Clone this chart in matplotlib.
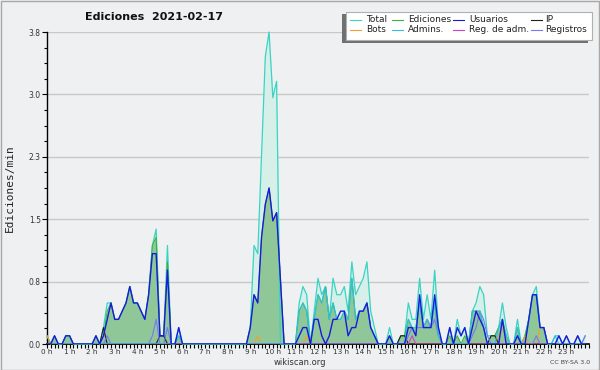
import matplotlib
matplotlib.use("Agg")
import matplotlib.pyplot as plt
from matplotlib.patches import Rectangle
from matplotlib.lines import Line2D
import numpy as np

title = "Ediciones  2021-02-17"
ylabel = "Ediciones/min"
hour_labels = ["0 h", "1 h", "2 h", "3 h", "4 h", "5 h", "6 h", "7 h", "8 h", "9 h",
               "10 h", "11 h", "12 h", "13 h", "14 h", "15 h", "16 h", "17 h", "18 h",
               "19 h", "20 h", "21 h", "22 h", "23 h"]
ytick_vals = [0.0, 0.76, 1.52, 2.28, 3.04, 3.8]
ytick_labels = ["0.0", "0.8", "1.5", "2.3", "3.0", "3.8"]

# values per 10-minute bin, one row per hour
total = [
    0.1, 0, 0.1, 0, 0, 0.1,
    0.1, 0, 0, 0, 0, 0,
    0, 0.1, 0, 0.2, 0.5, 0.5,
    0.3, 0.3, 0.4, 0.5, 0.7, 0.5,
    0.5, 0.4, 0.3, 0.6, 1.2, 1.4,
    0.1, 0.1, 1.2, 0, 0, 0.2,
    0, 0, 0, 0, 0, 0,
    0, 0, 0, 0, 0, 0,
    0, 0, 0, 0, 0, 0,
    0.2, 1.2, 1.1, 2.3, 3.5, 3.8,
    3.0, 3.2, 0, 0, 0, 0,
    0, 0.5, 0.7, 0.6, 0, 0.4,
    0.8, 0.6, 0.7, 0.3, 0.8, 0.6,
    0.6, 0.7, 0.4, 1.0, 0.6, 0.7,
    0.8, 1.0, 0.4, 0.2, 0, 0,
    0, 0.2, 0, 0, 0.1, 0.1,
    0.5, 0.3, 0.3, 0.8, 0.3, 0.6,
    0.3, 0.9, 0.2, 0, 0, 0.2,
    0, 0.3, 0.1, 0.2, 0, 0.4,
    0.5, 0.7, 0.6, 0.1, 0.1, 0.1,
    0.2, 0.5, 0.2, 0, 0, 0.3,
    0, 0.1, 0.3, 0.6, 0.7, 0.2,
    0.2, 0, 0, 0.1, 0.1, 0,
    0.1, 0, 0, 0.1, 0, 0.1,
]
ediciones = [
    0.1, 0, 0.1, 0, 0, 0.1,
    0.1, 0, 0, 0, 0, 0,
    0, 0.1, 0, 0.1, 0.4, 0.5,
    0.3, 0.3, 0.4, 0.5, 0.7, 0.5,
    0.5, 0.4, 0.3, 0.6, 1.2, 1.3,
    0.1, 0.1, 1.0, 0, 0, 0.1,
    0, 0, 0, 0, 0, 0,
    0, 0, 0, 0, 0, 0,
    0, 0, 0, 0, 0, 0,
    0.2, 0.6, 0.5, 1.3, 1.7, 1.9,
    1.5, 1.6, 0.8, 0, 0, 0,
    0, 0.4, 0.5, 0.4, 0, 0.3,
    0.6, 0.5, 0.7, 0.3, 0.5, 0.3,
    0.3, 0.4, 0.3, 0.8, 0.3, 0.4,
    0.4, 0.5, 0.2, 0.1, 0, 0,
    0, 0.1, 0, 0, 0.1, 0.1,
    0.3, 0.2, 0.2, 0.5, 0.2, 0.3,
    0.2, 0.5, 0.1, 0, 0, 0.1,
    0, 0.1, 0, 0.1, 0, 0.4,
    0.4, 0.4, 0.2, 0, 0.1, 0.1,
    0.2, 0.3, 0.1, 0, 0, 0.2,
    0, 0.1, 0.3, 0.6, 0.6, 0.2,
    0.2, 0, 0, 0, 0, 0,
    0, 0, 0, 0, 0, 0,
]
usuarios = [
    0, 0, 0.1, 0, 0, 0.1,
    0.1, 0, 0, 0, 0, 0,
    0, 0.1, 0, 0.1, 0.3, 0.5,
    0.3, 0.3, 0.4, 0.5, 0.7, 0.5,
    0.5, 0.4, 0.3, 0.6, 1.1, 1.1,
    0.1, 0.1, 0.9, 0, 0, 0.2,
    0, 0, 0, 0, 0, 0,
    0, 0, 0, 0, 0, 0,
    0, 0, 0, 0, 0, 0,
    0.2, 0.6, 0.5, 1.3, 1.7, 1.9,
    1.5, 1.6, 0.8, 0, 0, 0,
    0, 0.1, 0.2, 0.2, 0, 0.3,
    0.3, 0.1, 0, 0.1, 0.3, 0.3,
    0.4, 0.4, 0.1, 0.2, 0.2, 0.4,
    0.4, 0.5, 0.2, 0.1, 0, 0,
    0, 0.1, 0, 0, 0, 0,
    0.2, 0.2, 0.1, 0.6, 0.2, 0.2,
    0.2, 0.6, 0.2, 0, 0, 0.2,
    0, 0.2, 0.1, 0.2, 0, 0.2,
    0.4, 0.3, 0.2, 0, 0, 0,
    0, 0.3, 0, 0, 0, 0.1,
    0, 0, 0.3, 0.6, 0.6, 0.2,
    0.2, 0, 0, 0, 0.1, 0,
    0.1, 0, 0, 0.1, 0, 0,
]
ip = [
    0, 0, 0, 0, 0, 0,
    0, 0, 0, 0, 0, 0,
    0, 0, 0, 0.2, 0, 0,
    0, 0, 0, 0, 0, 0,
    0, 0, 0, 0, 0, 0,
    0.1, 0.1, 0, 0, 0, 0,
    0, 0, 0, 0, 0, 0,
    0, 0, 0, 0, 0, 0,
    0, 0, 0, 0, 0, 0,
    0, 0, 0, 0, 0, 0,
    0, 0, 0, 0, 0, 0,
    0, 0, 0, 0, 0, 0,
    0, 0, 0, 0, 0, 0,
    0, 0, 0, 0, 0, 0,
    0, 0, 0, 0, 0, 0,
    0, 0, 0, 0, 0.1, 0.1,
    0, 0, 0, 0, 0, 0,
    0, 0, 0, 0, 0, 0,
    0, 0, 0, 0, 0, 0,
    0, 0, 0, 0, 0.1, 0.1,
    0, 0, 0, 0, 0, 0,
    0, 0, 0, 0, 0, 0,
    0, 0, 0, 0, 0, 0,
    0, 0, 0, 0, 0, 0,
]
bots = [
    0.1, 0, 0, 0, 0, 0,
    0, 0, 0, 0, 0, 0,
    0, 0, 0, 0, 0, 0,
    0, 0, 0, 0, 0, 0,
    0, 0, 0, 0, 0, 0,
    0, 0, 0, 0, 0, 0,
    0, 0, 0, 0, 0, 0,
    0, 0, 0, 0, 0, 0,
    0, 0, 0, 0, 0, 0,
    0, 0, 0.1, 0, 0, 0,
    0, 0, 0, 0, 0, 0,
    0, 0, 0, 0.1, 0, 0,
    0, 0, 0, 0, 0, 0,
    0, 0, 0, 0, 0, 0,
    0, 0, 0, 0, 0, 0,
    0, 0, 0, 0, 0, 0,
    0, 0, 0, 0, 0, 0,
    0, 0, 0, 0, 0, 0,
    0, 0, 0, 0, 0, 0,
    0, 0, 0, 0, 0, 0,
    0.1, 0.2, 0.1, 0, 0, 0,
    0, 0.1, 0, 0, 0, 0.2,
    0.2, 0, 0, 0, 0, 0,
    0, 0, 0, 0, 0, 0,
]
admins = [
    0, 0, 0, 0, 0, 0,
    0, 0, 0, 0, 0, 0,
    0, 0, 0, 0, 0, 0,
    0, 0, 0, 0, 0, 0,
    0, 0, 0, 0, 0, 0,
    0, 0, 0, 0, 0, 0.1,
    0, 0, 0, 0, 0, 0,
    0, 0, 0, 0, 0, 0,
    0, 0, 0, 0, 0, 0,
    0, 0, 0, 0, 0, 0,
    0, 0, 0, 0, 0, 0,
    0, 0.4, 0.5, 0.4, 0, 0.3,
    0.6, 0.5, 0.7, 0.3, 0.5, 0.3,
    0.3, 0.4, 0.3, 0.8, 0.3, 0.4,
    0.4, 0.5, 0.2, 0.1, 0, 0,
    0, 0, 0, 0, 0, 0,
    0.3, 0.2, 0.2, 0.5, 0.2, 0.3,
    0.2, 0.5, 0.1, 0, 0, 0,
    0, 0, 0, 0, 0, 0.4,
    0.4, 0.4, 0.2, 0, 0, 0,
    0.2, 0.3, 0.1, 0, 0, 0.2,
    0, 0, 0.3, 0.6, 0.6, 0.2,
    0.2, 0, 0, 0.1, 0, 0,
    0, 0, 0, 0, 0, 0,
]
reg_adm = [0] * 97 + [0.1] + [0] * 46
registros = [
    0, 0, 0, 0, 0, 0,
    0, 0, 0, 0, 0, 0,
    0, 0, 0, 0, 0.1, 0,
    0, 0, 0, 0, 0, 0,
    0, 0, 0, 0, 0.1, 0.3,
    0, 0, 0.2, 0, 0, 0,
    0, 0, 0, 0, 0, 0,
    0, 0, 0, 0, 0, 0,
    0, 0, 0, 0, 0, 0,
    0, 0, 0, 0, 0, 0,
    0, 0, 0, 0, 0, 0,
    0, 0, 0, 0, 0, 0,
    0, 0, 0, 0, 0, 0,
    0, 0, 0, 0, 0, 0,
    0, 0, 0, 0, 0, 0,
    0, 0, 0, 0, 0, 0,
    0.1, 0.2, 0.2, 0.2, 0.2, 0.3,
    0.2, 0.3, 0.1, 0, 0, 0,
    0, 0, 0, 0, 0, 0.1,
    0.2, 0.4, 0.3, 0.1, 0, 0,
    0, 0, 0, 0, 0, 0,
    0, 0, 0, 0, 0.1, 0,
    0, 0, 0, 0, 0, 0,
    0, 0, 0, 0, 0, 0.1,
]

bg = "#eff0f1"
c_total = "#38d4c4"
c_total_fill = "#d6efe9"
c_ed = "#3cb43c"
c_ed_fill = "#8fc799"
c_usu = "#1a1adc"
c_ip = "#202020"
c_bots = "#f0a030"
c_adm = "#30c0e0"
c_regadm = "#d040d0"
c_reg = "#7878f0"

fig = plt.figure(figsize=(6, 3.7), dpi=100, facecolor=bg)
ax = fig.add_axes([47 / 600, 26 / 370, 542 / 600, 312 / 370])
ax.set_facecolor(bg)

x = np.arange(len(total)) / 6.0

for yv in ytick_vals[1:]:
    ax.axhline(yv, color="#c8c8c8", lw=1.0, zorder=0)

ax.fill_between(x, total, color=c_total_fill, lw=0, zorder=1)
ax.fill_between(x, ediciones, color=c_ed_fill, lw=0, zorder=2)
ax.plot(x, total, color=c_total, lw=0.9, zorder=3, clip_on=False)
ax.plot(x, ediciones, color=c_ed, lw=0.8, zorder=3)
ax.plot(x, bots, color=c_bots, lw=0.8, zorder=4)
ax.plot(x, ip, color=c_ip, lw=0.8, zorder=4)
ax.plot(x, reg_adm, color=c_regadm, lw=0.8, zorder=4)
ax.plot(x, registros, color=c_reg, lw=0.8, zorder=4)
ax.plot(x, admins, color=c_adm, lw=0.8, zorder=5)
ax.plot(x, usuarios, color=c_usu, lw=1.0, zorder=6)

ax.set_xlim(0, 24)
ax.set_ylim(0, 3.8)
for s in ["top", "right"]:
    ax.spines[s].set_visible(False)
ax.spines["left"].set_color("black")
ax.spines["bottom"].set_color("black")
ax.spines["left"].set_linewidth(1.0)
ax.spines["bottom"].set_linewidth(1.2)

ax.set_xticks(np.arange(24))
ax.set_xticklabels(hour_labels)
ax.set_xticks(np.arange(0, 24.001, 1 / 6), minor=True)
ax.set_yticks(ytick_vals)
ax.set_yticklabels(ytick_labels)
ax.set_yticks(np.arange(0, 3.801, 0.19), minor=True)
ax.tick_params(axis="both", which="major", direction="out", length=3.5, width=0.8,
               labelsize=5.5, labelcolor="#333333", pad=1)
ax.tick_params(axis="x", which="major", labelsize=5.2, pad=0.5)
ax.tick_params(axis="both", which="minor", direction="out", length=2.5, width=0.8)
ax.tick_params(axis="x", which="both", length=2.8)

fig.text(10 / 600, 1 - 188 / 370, ylabel, rotation=90, fontsize=8,
         family="DejaVu Sans Mono", ha="center", va="center", color="#222222")
fig.text(85 / 600, 1 - 17 / 370, title, fontsize=8, fontweight="bold",
         ha="left", va="center", color="#111111")
fig.text(300 / 600, 1 - 362.5 / 370, "wikiscan.org", fontsize=6, ha="center",
         va="center", color="#333333")
fig.text(590 / 600, 1 - 363 / 370, "CC BY-SA 3.0", fontsize=4.5, ha="right",
         va="center", color="#444444")

def P(px, py):
    return px / 600, 1 - py / 370

# legend
fig.add_artist(Rectangle(P(342, 43), 246 / 600, 29 / 370, transform=fig.transFigure,
                         facecolor="#707070", edgecolor="none", zorder=10))
fig.add_artist(Rectangle(P(346, 39.5), 246 / 600, 28 / 370, transform=fig.transFigure,
                         facecolor="white", edgecolor="#b0b0b0", lw=0.8, zorder=11))
legend_items = [
    ("Total", c_total, 350, 366, 19.5),
    ("Ediciones", c_ed, 392, 408, 19.5),
    ("Usuarios", c_usu, 453, 469, 19.5),
    ("IP", c_ip, 531, 545, 19.5),
    ("Bots", c_bots, 350, 366, 29.5),
    ("Admins.", c_adm, 392, 408, 29.5),
    ("Reg. de adm.", c_regadm, 453, 469, 29.5),
    ("Registros", c_reg, 531, 545, 29.5),
]
for lab, col, lx, tx, ly in legend_items:
    x0, y0 = P(lx, ly)
    x1, _ = P(lx + 11, ly)
    fig.add_artist(Line2D([x0, x1], [y0, y0], transform=fig.transFigure, color=col,
                          lw=0.8, zorder=12))
    fig.text(tx / 600, y0, lab, fontsize=6.5, ha="left", va="center",
             color="#222222", zorder=12)

fig.add_artist(Rectangle((0.001, 0.001), 0.997, 0.997, transform=fig.transFigure,
                         fill=False, edgecolor="#a8a8a8", lw=1.0, zorder=20))

fig.savefig("out.png", dpi=100, facecolor=bg)
